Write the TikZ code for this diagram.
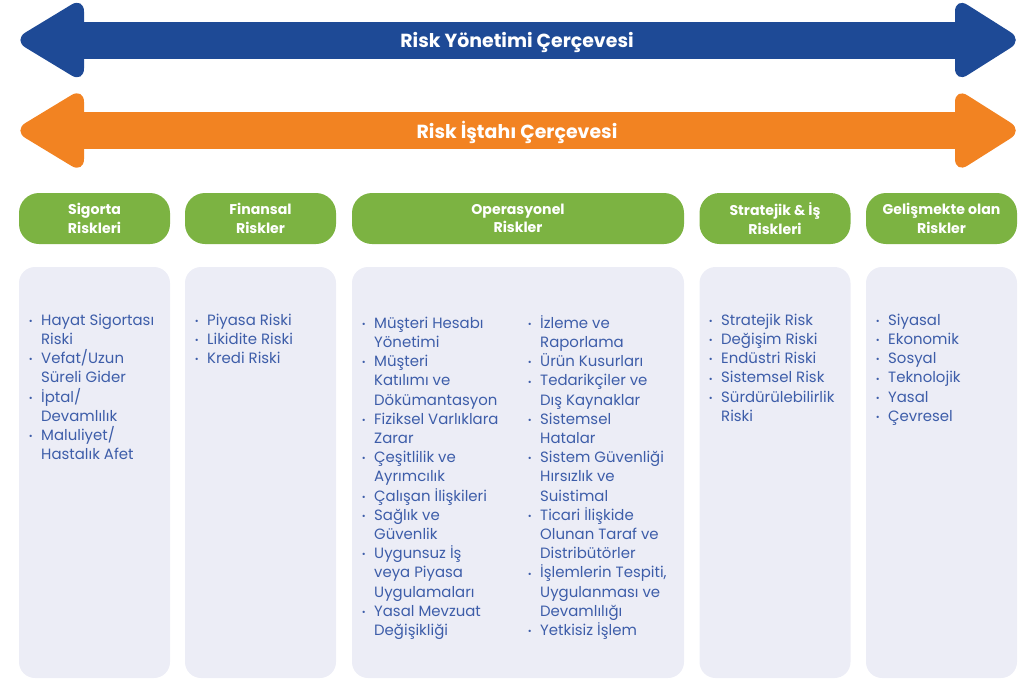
\documentclass[tikz,border=0pt]{standalone}
\usepackage{fontspec}
\setmainfont{Poppins}
\usepackage{xcolor}
\usetikzlibrary{positioning}
\definecolor{Navy}{HTML}{1E4A96}
\definecolor{Tang}{HTML}{F28322}
\definecolor{Leaf}{HTML}{7CB342}
\definecolor{Pale}{HTML}{ECEDF6}
\definecolor{Ink}{HTML}{3D5DA9}
\newcommand{\bul}{\strut\makebox[9.3pt][l]{\raisebox{0.1ex}{\scriptsize\textbullet}}}
\newcommand{\gap}{\hspace*{9.3pt}}
\newcommand{\framearrow}[3]{%
  \fill[#2] (78,#1-18.5) rectangle (961,#1+18.5);
  \fill[#2,rounded corners=11pt] (84,#1-43) -- (13,#1) -- (84,#1+43) -- cycle;
  \fill[#2,rounded corners=11pt] (955,#1-43) -- (1023,#1) -- (955,#1+43) -- cycle;
  \node[bartext] (#3) at (517,#1+2) {#3};}
\tikzset{
  bartext/.style={font=\fontsize{14.2}{17}\selectfont\bfseries,text=white,inner sep=0pt},
  head/.style={fill=Leaf,rounded corners=15pt,minimum height=51*0.75pt,align=center,
    font=\fontsize{10.6}{13.8}\selectfont\bfseries,text=white,inner sep=0pt},
  panel/.style={fill=Pale,rounded corners=12pt,minimum height=411*0.75pt,inner sep=0pt},
  items/.style={anchor=north west,align=left,inner sep=0pt,text=Ink,
    font=\fontsize{11.2}{14.4}\selectfont}
}
\begin{document}
\begin{tikzpicture}[x=0.75pt,y=-0.75pt]
  \useasboundingbox (0,0) rectangle (1031,679);
  % framework arrows
  \framearrow{40}{Navy}{Risk Yönetimi Çerçevesi}
  \framearrow{130.5}{Tang}{Risk İştahı Çerçevesi}
  % column headers
  \node[head,minimum width=151*0.75pt] (sig) at (94.5,218.5) {Sigorta\\Riskleri};
  \node[head,minimum width=151*0.75pt] (fin) at (260.5,218.5) {Finansal\\Riskler};
  \node[head,minimum width=332*0.75pt] (ops) at (518,218.5) {Operasyonel\\Riskler};
  \node[head,minimum width=151*0.75pt] (str) at (775,218.5) {Stratejik \& İş\\Riskleri};
  \node[head,minimum width=151*0.75pt] (gel) at (941.5,218.5) {Gelişmekte olan\\Riskler};
  % panels
  \node[panel,minimum width=151*0.75pt] (sigBox) at (94.5,472.5) {};
  \node[panel,minimum width=151*0.75pt] (finBox) at (260.5,472.5) {};
  \node[panel,minimum width=332*0.75pt] (opsBox) at (518,472.5) {};
  \node[panel,minimum width=151*0.75pt] (strBox) at (775,472.5) {};
  \node[panel,minimum width=151*0.75pt] (gelBox) at (941.5,472.5) {};
  % lists
  \node[items] (sigList) at (28.5,311.6) {\bul Hayat Sigortası\\\gap Riski\\\bul Vefat/Uzun\\\gap Süreli Gider\\\bul İptal/\\\gap Devamlılık\\\bul Maluliyet/\\\gap Hastalık Afet};
  \node[items] (finList) at (194.5,311.6) {\bul Piyasa Riski\\\bul Likidite Riski\\\bul Kredi Riski};
  \node[items] (opsListA) at (361.5,314.6) {\bul Müşteri Hesabı\\\gap Yönetimi\\\bul Müşteri\\\gap Katılımı ve\\\gap Dökümantasyon\\\bul Fiziksel Varlıklara\\\gap Zarar\\\bul Çeşitlilik ve\\\gap Ayrımcılık\\\bul Çalışan İlişkileri\\\bul Sağlık ve\\\gap Güvenlik\\\bul Uygunsuz İş\\\gap veya Piyasa\\\gap Uygulamaları\\\bul Yasal Mevzuat\\\gap Değişikliği};
  \node[items] (opsListB) at (527.5,314.6) {\bul İzleme ve\\\gap Raporlama\\\bul Ürün Kusurları\\\bul Tedarikçiler ve\\\gap Dış Kaynaklar\\\bul Sistemsel\\\gap Hatalar\\\bul Sistem Güvenliği\\\gap Hırsızlık ve\\\gap Suistimal\\\bul Ticari İlişkide\\\gap Olunan Taraf ve\\\gap Distribütörler\\\bul İşlemlerin Tespiti,\\\gap Uygulanması ve\\\gap Devamlılığı\\\bul Yetkisiz İşlem};
  \node[items] (strList) at (708.5,311.6) {\bul Stratejik Risk\\\bul Değişim Riski\\\bul Endüstri Riski\\\bul Sistemsel Risk\\\bul Sürdürülebilirlik\\\gap Riski};
  \node[items] (gelList) at (875.5,311.6) {\bul Siyasal\\\bul Ekonomik\\\bul Sosyal\\\bul Teknolojik\\\bul Yasal\\\bul Çevresel};
\end{tikzpicture}
\end{document}
